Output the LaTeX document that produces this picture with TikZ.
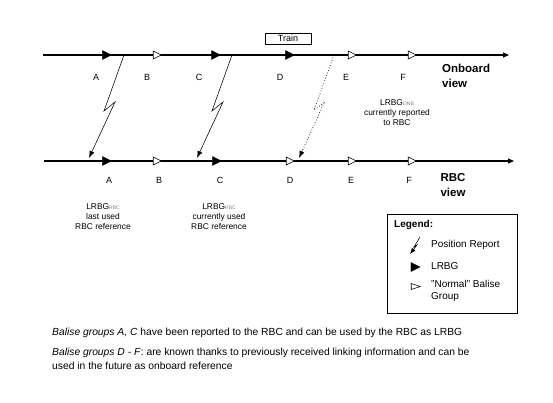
\documentclass[tikz,border=0pt]{standalone}
\usepackage{fontspec}
\setmainfont{Liberation Sans}
\usetikzlibrary{arrows.meta,shapes.geometric}
\begin{document}
\begin{tikzpicture}[x=1pt,y=-1pt,
  track/.style={line width=1.1pt,-{Triangle[length=6pt,width=5pt]}},
  lrbgmark/.style={isosceles triangle, isosceles triangle stretches, shape border rotate=0,
    fill=black, draw=black, line width=0.4pt, inner sep=0pt, minimum width=9pt, minimum height=9pt, anchor=apex},
  normmark/.style={isosceles triangle, isosceles triangle stretches, shape border rotate=0,
    fill=white, draw=black, line width=0.6pt, inner sep=0pt, minimum width=8pt, minimum height=8pt, anchor=apex},
  bolt/.style={line width=0.55pt,-{Latex[length=7pt,width=5pt]}},
  dbolt/.style={line width=0.7pt,dotted},
  lbl/.style={font=\fontsize{9}{10}\selectfont, inner sep=0pt},
  captxt/.style={font=\fontsize{8.4}{10}\selectfont, align=center, inner sep=0pt},
  viewtxt/.style={font=\fontsize{11.5}{15}\selectfont\bfseries, inner sep=0pt},
  leg/.style={font=\fontsize{10}{12}\selectfont, inner sep=0pt, anchor=west, align=left},
  notetxt/.style={font=\fontsize{10.3}{14}\selectfont, inner sep=0pt, anchor=west, align=left}
]
\useasboundingbox (0,0) rectangle (553,402);

% tracks
\coordinate (t0) at (43,55);
\coordinate (t1) at (509,55);
\coordinate (r0) at (44,161);
\coordinate (r1) at (514,161);
\draw[track] (t0) -- (t1);
\draw[track] (r0) -- (r1);

% train
\node[draw, line width=0.6pt, minimum width=46pt, minimum height=11pt, inner sep=0pt,
      font=\fontsize{9}{10}\selectfont] (train) at (288,38.5) {Train};

% onboard markers
\node[lrbgmark] (tA) at (112,55) {};
\node[normmark] (tB) at (162,55) {};
\node[lrbgmark] (tC) at (221,55) {};
\node[lrbgmark] (tD) at (295,55) {};
\node[normmark] (tE) at (357,55) {};
\node[normmark] (tF) at (417,55) {};
% RBC markers
\node[lrbgmark] (rA) at (112,161) {};
\node[normmark] (rB) at (162,161) {};
\node[lrbgmark] (rC) at (222,161) {};
\node[normmark] (rD) at (295,161) {};
\node[normmark] (rE) at (357,161) {};
\node[normmark] (rF) at (417,161) {};

% labels
\node[lbl] (ltA) at (96,77) {A};
\node[lbl] (ltB) at (147,77) {B};
\node[lbl] (ltC) at (199,77) {C};
\node[lbl] (ltD) at (280,77) {D};
\node[lbl] (ltE) at (346,77) {E};
\node[lbl] (ltF) at (403,77) {F};
\node[lbl] (lrA) at (109,180) {A};
\node[lbl] (lrB) at (159,180) {B};
\node[lbl] (lrC) at (220,180) {C};
\node[lbl] (lrD) at (290,180) {D};
\node[lbl] (lrE) at (351,180) {E};
\node[lbl] (lrF) at (409,180) {F};

% view titles
\node[viewtxt, anchor=west, align=left] (onb) at (442,75.5) {Onboard\\view};
\node[viewtxt, align=center] (rbcv) at (453,185) {RBC\\view};

% position reports
\coordinate (b1s) at (124,55);
\coordinate (b1a) at (104,111);
\coordinate (b1b) at (115,102);
\coordinate (b1e) at (89,158);
\draw[bolt] (b1s) -- (b1a) -- (b1b) -- (b1e);
\coordinate (b2s) at (232,55);
\coordinate (b2a) at (212,111);
\coordinate (b2b) at (223,102);
\coordinate (b2e) at (197,158);
\draw[bolt] (b2s) -- (b2a) -- (b2b) -- (b2e);
\coordinate (b3s) at (334,55);
\coordinate (b3a) at (314,110);
\coordinate (b3b) at (324,103);
\coordinate (b3t) at (302.5,150.5);
\coordinate (b3e) at (299,158);
\draw[dbolt] (b3s) -- (b3a) -- (b3b) -- (b3t);
\draw[bolt] (b3t) -- (b3e);

% captions
\node[captxt] (cONB) at (397,113) {LRBG{\fontsize{5}{6}\selectfont\color{gray}ONB}\\currently reported\\to RBC};
\node[captxt] (cA) at (103,217) {LRBG{\fontsize{5}{6}\selectfont\color{gray}RBC}\\last used\\RBC reference};
\node[captxt] (cC) at (219,217) {LRBG{\fontsize{5}{6}\selectfont\color{gray}RBC}\\currently used\\RBC reference};

% legend
\node[draw, line width=0.6pt, minimum width=130pt, minimum height=99pt, inner sep=0pt] (legbox) at (452,263.5) {};
\node[leg, font=\fontsize{10}{12}\selectfont\bfseries] (legt) at (394,225) {Legend:};
\coordinate (lg0) at (420,237);
\coordinate (lg1) at (414,247);
\coordinate (lg2) at (417,245);
\coordinate (lg3) at (410,254);
\draw[line width=0.55pt,-{Latex[length=6pt,width=4.5pt]}] (lg0) -- (lg1) -- (lg2) -- (lg3);
\node[leg] (legpr) at (431,245) {Position Report};
\node[lrbgmark, minimum width=9pt, minimum height=9pt] (legl) at (420.5,267) {};
\node[leg] (leglt) at (431,266) {LRBG};
\node[normmark, minimum width=6pt, minimum height=9pt] (legn) at (421,286.5) {};
\node[leg, anchor=north west] (legnt) at (431,280.5) {"Normal" Balise\\Group};

% notes
\node[notetxt] (n1) at (52,333) {\textit{Balise groups A, C} have been reported to the RBC and can be used by the RBC as LRBG};
\node[notetxt, anchor=north west] (n2) at (52,347.5) {\textit{Balise groups D - F}: are known thanks to previously received linking information and can be\\used in the future as onboard reference};
\end{tikzpicture}
\end{document}
